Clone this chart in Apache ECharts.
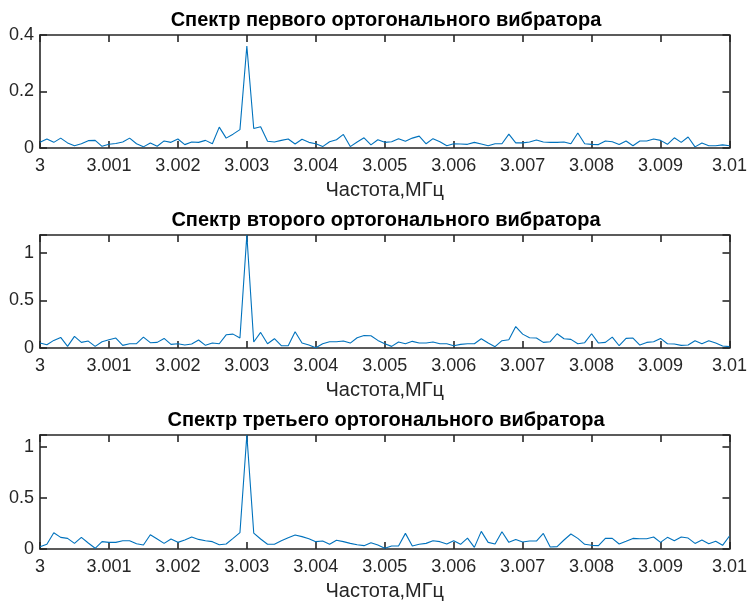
<!DOCTYPE html>
<html>
<head>
<meta charset="utf-8">
<script src="https://cdn.jsdelivr.net/npm/echarts@6/dist/echarts.min.js"></script>
<style>
  html, body { margin: 0; background: #fff; }
  #chart { width: 750px; height: 602px; }
</style>
</head>
<body>
<div id="chart"></div>
<script>
// частотная сетка: 3.000 ... 3.010 МГц, шаг 0.0001
var freqStart = 3, freqStep = 0.0001, freqCount = 101;
var xTicks = ['3', '3.001', '3.002', '3.003', '3.004', '3.005', '3.006', '3.007', '3.008', '3.009', '3.01'];

var titles = [
  'Спектр первого ортогонального вибратора',
  'Спектр второго ортогонального вибратора',
  'Спектр третьего ортогонального вибратора'
];
var xName = 'Частота,МГц';

var spec1 = [0.020,0.032,0.020,0.035,0.018,0.008,0.015,0.026,0.027,0.006,
  0.013,0.016,0.021,0.035,0.015,0.004,0.018,0.006,0.025,0.020,
  0.032,0.012,0.021,0.020,0.027,0.015,0.074,0.035,0.049,0.065,
  0.361,0.069,0.075,0.024,0.021,0.027,0.032,0.014,0.031,0.020,
  0.015,0.005,0.022,0.029,0.048,0.005,0.021,0.036,0.011,0.029,
  0.020,0.022,0.033,0.024,0.035,0.042,0.015,0.033,0.022,0.008,
  0.015,0.014,0.013,0.020,0.014,0.008,0.015,0.015,0.049,0.018,
  0.018,0.021,0.028,0.021,0.020,0.020,0.021,0.015,0.053,0.015,
  0.013,0.012,0.025,0.022,0.012,0.025,0.008,0.025,0.025,0.032,
  0.027,0.013,0.036,0.020,0.039,0.004,0.018,0.008,0.008,0.011,
  0.008];

var spec2 = [0.052,0.035,0.080,0.111,0.017,0.122,0.059,0.073,0.017,0.066,
  0.087,0.105,0.028,0.045,0.045,0.115,0.056,0.059,0.101,0.038,
  0.045,0.031,0.042,0.084,0.028,0.052,0.045,0.139,0.146,0.105,
  1.19,0.063,0.164,0.045,0.098,0.024,0.024,0.171,0.052,0.031,
  0.003,0.045,0.066,0.066,0.073,0.052,0.108,0.132,0.129,0.080,
  0.045,0.017,0.063,0.045,0.070,0.052,0.052,0.063,0.045,0.045,
  0.024,0.038,0.045,0.045,0.098,0.052,0.014,0.077,0.087,0.226,
  0.146,0.108,0.105,0.059,0.066,0.150,0.098,0.091,0.045,0.056,
  0.150,0.052,0.059,0.115,0.024,0.101,0.105,0.031,0.059,0.066,
  0.101,0.045,0.042,0.028,0.031,0.077,0.045,0.077,0.052,0.021,
  0.014];

var spec3 = [0.023,0.046,0.160,0.114,0.104,0.055,0.114,0.059,0.007,0.072,
  0.065,0.065,0.081,0.081,0.052,0.039,0.140,0.098,0.055,0.098,
  0.065,0.088,0.117,0.094,0.081,0.072,0.042,0.049,0.104,0.160,
  1.117,0.156,0.098,0.046,0.046,0.081,0.111,0.137,0.121,0.101,
  0.072,0.078,0.046,0.085,0.072,0.055,0.042,0.033,0.062,0.039,
  0.007,0.029,0.029,0.153,0.029,0.046,0.055,0.081,0.072,0.049,
  0.081,0.046,0.107,0.016,0.173,0.065,0.049,0.169,0.065,0.094,
  0.068,0.078,0.078,0.153,0.020,0.023,0.088,0.147,0.104,0.046,
  0.036,0.033,0.104,0.104,0.049,0.075,0.104,0.101,0.101,0.117,
  0.065,0.114,0.081,0.117,0.107,0.055,0.088,0.052,0.075,0.036,
  0.127];

var yMax = [0.4, 1.19, 1.117];
var yStep = [0.2, 0.5, 0.5];

var chart = echarts.init(document.getElementById('chart'));

var ink = '#262626';
var font = '"Liberation Sans", Arial, sans-serif';
var tops = [35, 235, 435];
var gridH = [113, 113, 114];
var specs = [spec1, spec2, spec3];

var grids = [], xAxes = [], yAxes = [], series = [], graphics = [];

function axisLine() { return { show: true, onZero: false, lineStyle: { color: ink, width: 1.6 } }; }
function axisTick() { return { show: true, inside: true, length: 7, lineStyle: { color: ink, width: 1.6 } }; }

for (var k = 0; k < 3; k++) {
  grids.push({ left: 40, top: tops[k], width: 692, height: gridH[k] });

  var xBase = { gridIndex: k, type: 'value', min: freqStart, max: 3.01, interval: 0.001,
    axisLine: axisLine(), axisTick: axisTick(), splitLine: { show: false } };

  xAxes.push(Object.assign({}, xBase, {
    position: 'bottom',
    axisLabel: { color: ink, fontSize: 18, fontFamily: font, margin: 9,
      formatter: function (v) {
        var i = Math.round((v - freqStart) / 0.001);
        return xTicks[i] || '';
      } },
    name: xName, nameLocation: 'middle', nameGap: 32,
    nameTextStyle: { color: ink, fontSize: 20, fontFamily: font }
  }));
  xAxes.push(Object.assign({}, xBase, { position: 'top', axisLabel: { show: false } }));

  (function (step) {
    var yBase = { gridIndex: k, type: 'value', min: 0, max: yMax[k], interval: step,
      axisLine: axisLine(), axisTick: axisTick(), splitLine: { show: false } };
    yAxes.push(Object.assign({}, yBase, {
      position: 'left',
      axisLabel: { color: ink, fontSize: 18, fontFamily: font, margin: 6,
        formatter: function (v) {
          var r = v / step;
          return Math.abs(r - Math.round(r)) < 1e-6 ? String(+v.toFixed(2)) : '';
        } }
    }));
    yAxes.push(Object.assign({}, yBase, { position: 'right', axisLabel: { show: false } }));
  })(yStep[k]);

  var pts = [];
  for (var i = 0; i < freqCount; i++) pts.push([freqStart + i * freqStep, specs[k][i]]);

  series.push({
    type: 'line', xAxisIndex: 2 * k, yAxisIndex: 2 * k, data: pts,
    showSymbol: false, clip: true,
    lineStyle: { color: '#0072BD', width: 1.1 }
  });

  graphics.push({
    type: 'text', x: 386, y: tops[k] - 15,
    style: { text: titles[k], align: 'center', verticalAlign: 'middle',
      fontSize: 20, fontWeight: 'bold', fontFamily: font, fill: '#000' }
  });
}

var option = {
  animation: false,
  backgroundColor: '#fff',
  grid: grids,
  xAxis: xAxes,
  yAxis: yAxes,
  series: series,
  graphic: graphics
};
chart.setOption(option);
</script>
</body>
</html>
